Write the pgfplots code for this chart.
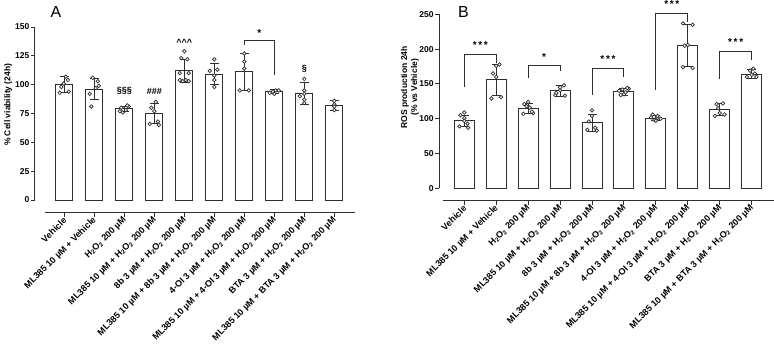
\documentclass[border=0pt]{standalone}
\usepackage{fontspec}
\setmainfont{Liberation Sans}
\usepackage{pgfplots}
\pgfplotsset{compat=1.18}
\usepackage{pgfplotstable}

\definecolor{ax}{gray}{0.18}

\pgfplotstableread{
x m e
0 100 7
1 96 9
2 79 2
3 75 8.5
4 112 10
5 109 9
6 111 16
7 94 1.5
8 92 9.5
9 82 4.5
}\barsA

\pgfplotstableread{
x y
-0.15 93
0.15 94
-0.10 98
0.12 104
0.05 107
-0.02 101
0.85 92
1.12 103
0.95 106
1.05 97
0.90 81
1.15 99
1.85 77
1.95 76
2.05 78
2.15 81
1.90 80
2.10 82
2.85 66
3.15 65
3.00 77
2.90 80
3.05 85
3.12 68
3.85 104
3.95 103
4.05 104
4.15 103
3.85 110
4.15 110
3.90 123
4.10 122
4.00 129
4.85 112
5.10 113
5.00 108
5.00 104
5.00 98
5.00 122
5.85 95
6.15 95
6.00 114
6.00 120
6.00 127
6.85 93
6.95 94
7.05 95
7.15 95
7.00 92
7.85 90
8.00 87
8.00 84
8.00 92
8.00 95
8.00 105
9.00 86
9.00 83
9.00 81
9.00 78
}\ptsA

\pgfplotstableread{
x m e
0 97 8
1 156 22
2 115 7
3 140 8
4 94 12
5 139 5
6 101 3
7 205 30
8 113 9
9 164 6
}\barsB

\pgfplotstableread{
x y
-0.15 89
0.12 87
0.00 101
0.00 97
-0.12 105
0.10 93
0.00 109
0.85 129
1.15 131
1.00 160
0.90 165
1.10 178
1.00 176
1.85 107
2.15 108
1.95 118
2.05 116
2.00 124
1.88 121
2.12 110
2.85 134
3.15 133
3.00 141
2.88 137
3.12 148
3.00 145
3.85 84
4.15 83
3.90 96
4.00 104
4.00 112
4.10 87
4.85 140
5.15 143
4.95 142
5.05 138
5.00 135
5.10 144
4.90 134
5.85 102
5.95 98
6.05 101
6.15 100
5.90 106
6.05 104
6.00 97
6.85 174
7.15 173
7.00 206
6.90 205
6.85 237
7.15 235
7.85 104
8.15 106
7.95 115
8.00 108
7.90 121
8.10 122
8.85 160
9.15 160
9.00 163
9.10 165
8.95 169
9.05 172
}\ptsB

\pgfplotsset{
  myaxis/.style={
    scale only axis,
    axis lines=left,
    axis line style={-, ax, line width=1pt},
    tick style={ax, line width=1pt},
    tick align=outside,
    major tick length=4pt,
    xtick={0,...,9},
    /pgf/number format/assume math mode=true,
    yticklabel style={font=\bfseries\fontsize{8.5}{9}\selectfont, inner sep=1.5pt},
    xticklabel style={font=\bfseries\fontsize{9}{10}\selectfont, rotate=45, anchor=east, inner sep=1pt, yshift=-2pt},
    xticklabels={
      Vehicle,
      ML385 10 µM + Vehicle,
      H\textsubscript{2}O\textsubscript{2} 200 µM,
      ML385 10 µM + H\textsubscript{2}O\textsubscript{2} 200 µM,
      8b 3 µM + H\textsubscript{2}O\textsubscript{2} 200 µM,
      ML385 10 µM + 8b 3 µM + H\textsubscript{2}O\textsubscript{2} 200 µM,
      4-OI 3 µM + H\textsubscript{2}O\textsubscript{2} 200 µM,
      ML385 10 µM + 4-OI 3 µM + H\textsubscript{2}O\textsubscript{2} 200 µM,
      BTA 3 µM + H\textsubscript{2}O\textsubscript{2} 200 µM,
      ML385 10 µM + BTA 3 µM + H\textsubscript{2}O\textsubscript{2} 200 µM},
    clip=false,
  },
  barst/.style={ybar, fill=white, draw=ax, line width=1pt},
  errst/.style={draw=none, mark=none, forget plot,
    error bars/.cd, y dir=both, y explicit,
    error bar style={ax, line width=1pt},
    error mark options={rotate=90, ax, mark size=4.5pt, line width=1pt}},
  ptst/.style={only marks, mark=*, mark size=1.8pt, mark options={fill=white, draw=ax, line width=0.7pt}},
}

\begin{document}
\begin{tikzpicture}
\begin{axis}[myaxis,
  at={(45pt,157pt)}, anchor=south west,
  width=310pt, height=173pt,
  xmin=-0.643, xmax=9.69, ymin=0, ymax=150,
  ytick={0,25,...,150},
  axis x line shift=12.7pt, axis y line shift=10pt,
  ylabel={\% Cell viability (24h)},
  every axis y label/.style={at={(axis description cs:-0.119,0.55)}, rotate=90, anchor=center, font=\bfseries\fontsize{8.5}{10}\selectfont},
]
\addplot[barst, bar width=17pt] table[x=x, y=m] {\barsA};
\addplot[errst] table[x=x, y=m, y error=e] {\barsA};
\addplot[ptst] table[x=x, y=y] {\ptsA};
\node[font=\bfseries\fontsize{9}{10}\selectfont] at (axis cs:2,95) {§§§};
\node[font=\bfseries\fontsize{9}{10}\selectfont] at (axis cs:3,94) {\#\#\#};
\node[font=\bfseries\fontsize{9}{10}\selectfont] at (axis cs:4,137) {\^{}\^{}\^{}};
\node[font=\bfseries\fontsize{9}{10}\selectfont] at (axis cs:8,114) {§};
\draw[ax, line width=1pt] (axis cs:6,134) -- (axis cs:6,138) -- (axis cs:7,138) -- (axis cs:7,108);
\node[font=\bfseries\fontsize{10}{10}\selectfont] at (axis cs:6.5,145) {*};
\node[font=\fontsize{16}{18}\selectfont, anchor=center] at (axis description cs:0.035,1.087) {A};
\end{axis}

\begin{axis}[myaxis,
  at={(443pt,168.7pt)}, anchor=south west,
  width=331pt, height=174pt,
  xmin=-0.667, xmax=9.70, ymin=0, ymax=250,
  ytick={0,50,...,250},
  axis x line shift=12.4pt, axis y line shift=3.7pt,
  ylabel={ROS production 24h\\(\% vs Vehicle)},
  every axis y label/.style={at={(axis description cs:-0.1,0.58)}, rotate=90, anchor=center, align=center, font=\bfseries\fontsize{8.5}{10}\selectfont},
]
\addplot[barst, bar width=20pt] table[x=x, y=m] {\barsB};
\addplot[errst] table[x=x, y=m, y error=e] {\barsB};
\addplot[ptst] table[x=x, y=y] {\ptsB};
\draw[ax, line width=1pt] (axis cs:0,145) -- (axis cs:0,192.6) -- (axis cs:1,192.6) -- (axis cs:1,180);
\node[font=\bfseries\fontsize{10}{10}\selectfont] at (axis cs:0.5,206) {*\,*\,*};
\draw[ax, line width=1pt] (axis cs:2,159) -- (axis cs:2,177) -- (axis cs:3,177) -- (axis cs:3,168.5);
\node[font=\bfseries\fontsize{10}{10}\selectfont] at (axis cs:2.5,189) {*};
\draw[ax, line width=1pt] (axis cs:4,134) -- (axis cs:4,172) -- (axis cs:5,172) -- (axis cs:5,159.5);
\node[font=\bfseries\fontsize{10}{10}\selectfont] at (axis cs:4.5,185) {*\,*\,*};
\draw[ax, line width=1pt] (axis cs:6,141) -- (axis cs:6,251.5) -- (axis cs:7,251.5) -- (axis cs:7,239);
\node[font=\bfseries\fontsize{10}{10}\selectfont] at (axis cs:6.5,265) {*\,*\,*};
\draw[ax, line width=1pt] (axis cs:8,156.6) -- (axis cs:8,196) -- (axis cs:9,196) -- (axis cs:9,185);
\node[font=\bfseries\fontsize{10}{10}\selectfont] at (axis cs:8.5,210) {*\,*\,*};
\node[font=\fontsize{16}{18}\selectfont, anchor=center] at (axis description cs:0.062,1.013) {B};
\end{axis}
\pgfresetboundingbox
\path[use as bounding box] (0,0) rectangle (774pt,357pt);
\end{tikzpicture}
\end{document}
